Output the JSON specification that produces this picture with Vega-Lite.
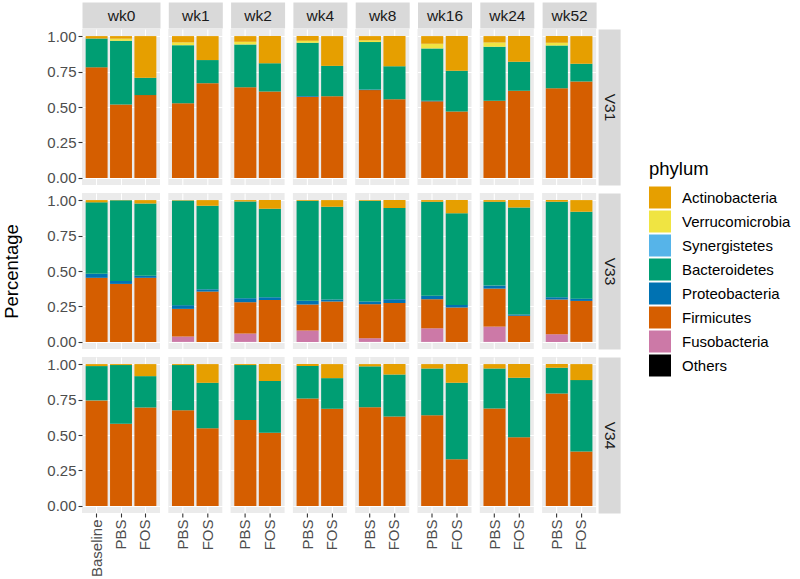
{
"$schema": "https://vega.github.io/schema/vega-lite/v6.json",
"background": "#FFFFFF",
"padding": {"left": 2, "top": 8, "right": 0, "bottom": 0},
"datasets": {
"d": [
{"m":"V31","w":"wk0","g":"Baseline","Firmicutes":0.78,"Bacteroidetes":0.203,"Actinobacteria":0.017},
{"m":"V31","w":"wk0","g":"PBS","Firmicutes":0.518,"Bacteroidetes":0.449,"Verrucomicrobia":0.015,"Actinobacteria":0.018},
{"m":"V31","w":"wk0","g":"FOS","Firmicutes":0.584,"Bacteroidetes":0.122,"Actinobacteria":0.294},
{"m":"V31","w":"wk1","g":"PBS","Firmicutes":0.527,"Bacteroidetes":0.409,"Verrucomicrobia":0.02,"Actinobacteria":0.044},
{"m":"V31","w":"wk1","g":"FOS","Firmicutes":0.668,"Bacteroidetes":0.163,"Actinobacteria":0.169},
{"m":"V31","w":"wk2","g":"PBS","Firmicutes":0.64,"Bacteroidetes":0.301,"Verrucomicrobia":0.019,"Actinobacteria":0.04},
{"m":"V31","w":"wk2","g":"FOS","Firmicutes":0.609,"Bacteroidetes":0.2,"Actinobacteria":0.191},
{"m":"V31","w":"wk4","g":"PBS","Firmicutes":0.572,"Proteobacteria":0.006,"Bacteroidetes":0.375,"Verrucomicrobia":0.014,"Actinobacteria":0.033},
{"m":"V31","w":"wk4","g":"FOS","Firmicutes":0.576,"Bacteroidetes":0.214,"Actinobacteria":0.21},
{"m":"V31","w":"wk8","g":"PBS","Firmicutes":0.619,"Proteobacteria":0.004,"Bacteroidetes":0.335,"Verrucomicrobia":0.012,"Actinobacteria":0.03},
{"m":"V31","w":"wk8","g":"FOS","Firmicutes":0.555,"Bacteroidetes":0.233,"Actinobacteria":0.212},
{"m":"V31","w":"wk16","g":"PBS","Firmicutes":0.54,"Proteobacteria":0.004,"Bacteroidetes":0.369,"Verrucomicrobia":0.033,"Actinobacteria":0.054},
{"m":"V31","w":"wk16","g":"FOS","Firmicutes":0.468,"Bacteroidetes":0.287,"Actinobacteria":0.245},
{"m":"V31","w":"wk24","g":"PBS","Firmicutes":0.544,"Bacteroidetes":0.381,"Verrucomicrobia":0.03,"Actinobacteria":0.045},
{"m":"V31","w":"wk24","g":"FOS","Firmicutes":0.614,"Bacteroidetes":0.205,"Actinobacteria":0.181},
{"m":"V31","w":"wk52","g":"PBS","Firmicutes":0.633,"Bacteroidetes":0.301,"Verrucomicrobia":0.019,"Actinobacteria":0.047},
{"m":"V31","w":"wk52","g":"FOS","Firmicutes":0.68,"Bacteroidetes":0.125,"Actinobacteria":0.195},
{"m":"V33","w":"wk0","g":"Baseline","Firmicutes":0.452,"Proteobacteria":0.028,"Bacteroidetes":0.504,"Actinobacteria":0.016},
{"m":"V33","w":"wk0","g":"PBS","Firmicutes":0.409,"Proteobacteria":0.021,"Bacteroidetes":0.568,"Actinobacteria":0.002},
{"m":"V33","w":"wk0","g":"FOS","Firmicutes":0.452,"Proteobacteria":0.014,"Bacteroidetes":0.51,"Actinobacteria":0.024},
{"m":"V33","w":"wk1","g":"PBS","Fusobacteria":0.038,"Firmicutes":0.195,"Proteobacteria":0.026,"Bacteroidetes":0.738,"Actinobacteria":0.003},
{"m":"V33","w":"wk1","g":"FOS","Firmicutes":0.355,"Proteobacteria":0.016,"Bacteroidetes":0.589,"Actinobacteria":0.04},
{"m":"V33","w":"wk2","g":"PBS","Fusobacteria":0.059,"Firmicutes":0.221,"Proteobacteria":0.028,"Bacteroidetes":0.682,"Actinobacteria":0.01},
{"m":"V33","w":"wk2","g":"FOS","Firmicutes":0.296,"Proteobacteria":0.019,"Bacteroidetes":0.624,"Actinobacteria":0.061},
{"m":"V33","w":"wk4","g":"PBS","Fusobacteria":0.08,"Firmicutes":0.184,"Proteobacteria":0.026,"Bacteroidetes":0.705,"Actinobacteria":0.005},
{"m":"V33","w":"wk4","g":"FOS","Firmicutes":0.285,"Proteobacteria":0.014,"Bacteroidetes":0.654,"Actinobacteria":0.047},
{"m":"V33","w":"wk8","g":"PBS","Fusobacteria":0.026,"Firmicutes":0.24,"Proteobacteria":0.019,"Bacteroidetes":0.71,"Actinobacteria":0.005},
{"m":"V33","w":"wk8","g":"FOS","Firmicutes":0.275,"Proteobacteria":0.026,"Bacteroidetes":0.643,"Actinobacteria":0.056},
{"m":"V33","w":"wk16","g":"PBS","Fusobacteria":0.096,"Firmicutes":0.205,"Proteobacteria":0.024,"Bacteroidetes":0.663,"Actinobacteria":0.012},
{"m":"V33","w":"wk16","g":"FOS","Firmicutes":0.242,"Proteobacteria":0.019,"Bacteroidetes":0.647,"Actinobacteria":0.092},
{"m":"V33","w":"wk24","g":"PBS","Fusobacteria":0.108,"Firmicutes":0.268,"Proteobacteria":0.021,"Bacteroidetes":0.591,"Actinobacteria":0.012},
{"m":"V33","w":"wk24","g":"FOS","Firmicutes":0.184,"Proteobacteria":0.009,"Bacteroidetes":0.755,"Actinobacteria":0.052},
{"m":"V33","w":"wk52","g":"PBS","Fusobacteria":0.054,"Firmicutes":0.245,"Proteobacteria":0.016,"Bacteroidetes":0.673,"Actinobacteria":0.012},
{"m":"V33","w":"wk52","g":"FOS","Firmicutes":0.289,"Proteobacteria":0.016,"Bacteroidetes":0.613,"Actinobacteria":0.082},
{"m":"V34","w":"wk0","g":"Baseline","Firmicutes":0.744,"Bacteroidetes":0.242,"Actinobacteria":0.014},
{"m":"V34","w":"wk0","g":"PBS","Firmicutes":0.579,"Bacteroidetes":0.414,"Actinobacteria":0.007},
{"m":"V34","w":"wk0","g":"FOS","Firmicutes":0.694,"Bacteroidetes":0.221,"Actinobacteria":0.085},
{"m":"V34","w":"wk1","g":"PBS","Firmicutes":0.675,"Bacteroidetes":0.318,"Actinobacteria":0.007},
{"m":"V34","w":"wk1","g":"FOS","Firmicutes":0.548,"Bacteroidetes":0.32,"Actinobacteria":0.132},
{"m":"V34","w":"wk2","g":"PBS","Firmicutes":0.605,"Bacteroidetes":0.388,"Actinobacteria":0.007},
{"m":"V34","w":"wk2","g":"FOS","Firmicutes":0.515,"Bacteroidetes":0.365,"Actinobacteria":0.12},
{"m":"V34","w":"wk4","g":"PBS","Firmicutes":0.758,"Bacteroidetes":0.228,"Actinobacteria":0.014},
{"m":"V34","w":"wk4","g":"FOS","Firmicutes":0.685,"Bacteroidetes":0.216,"Actinobacteria":0.099},
{"m":"V34","w":"wk8","g":"PBS","Firmicutes":0.696,"Bacteroidetes":0.288,"Actinobacteria":0.016},
{"m":"V34","w":"wk8","g":"FOS","Firmicutes":0.631,"Bacteroidetes":0.296,"Actinobacteria":0.073},
{"m":"V34","w":"wk16","g":"PBS","Firmicutes":0.64,"Bacteroidetes":0.329,"Actinobacteria":0.031},
{"m":"V34","w":"wk16","g":"FOS","Firmicutes":0.329,"Bacteroidetes":0.539,"Actinobacteria":0.132},
{"m":"V34","w":"wk24","g":"PBS","Firmicutes":0.687,"Bacteroidetes":0.282,"Actinobacteria":0.031},
{"m":"V34","w":"wk24","g":"FOS","Firmicutes":0.485,"Bacteroidetes":0.419,"Actinobacteria":0.096},
{"m":"V34","w":"wk52","g":"PBS","Firmicutes":0.793,"Bacteroidetes":0.181,"Actinobacteria":0.026},
{"m":"V34","w":"wk52","g":"FOS","Firmicutes":0.384,"Bacteroidetes":0.503,"Actinobacteria":0.113}
],
"ph": [
{"phylum":"Others","k":0},{"phylum":"Fusobacteria","k":1},{"phylum":"Firmicutes","k":2},{"phylum":"Proteobacteria","k":3},
{"phylum":"Bacteroidetes","k":4},{"phylum":"Synergistetes","k":5},{"phylum":"Verrucomicrobia","k":6},{"phylum":"Actinobacteria","k":7}
]
},
"data": {"name": "d"},
"transform": [
{"fold": ["Fusobacteria","Firmicutes","Proteobacteria","Bacteroidetes","Verrucomicrobia","Actinobacteria"], "as": ["phylum","value"]},
{"filter": "isValid(datum.value)"},
{"lookup": "phylum", "from": {"data": {"name": "ph"}, "key": "phylum", "fields": ["k"]}}
],
"columns": 8,
"align": "each",
"bounds": "flush",
"spacing": {"row": 8, "column": 8.3},
"concat": [
{"width":78,"height":156,"transform":[{"filter":"datum.m=='V31' && datum.w=='wk0'"}],"mark":"bar","encoding":{"x":{"field":"g","type":"nominal","sort":["Baseline","PBS","FOS"],"axis":{"orient":"top","title":"wk0","offset":14}},"y":{"field":"value","type":"quantitative","stack":"zero","scale":{"domain":[-0.05,1.05],"nice":false,"zero":false},"axis":{"orient":"left","labels":true,"ticks":true,"values":[0,0.25,0.5,0.75,1],"format":".2f","title":null}},"color":{"field":"phylum","type":"nominal","scale":{"domain":["Actinobacteria","Verrucomicrobia","Synergistetes","Bacteroidetes","Proteobacteria","Firmicutes","Fusobacteria","Others"],"range":["#E69F00","#F0E442","#56B4E9","#009E73","#0072B2","#D55E00","#CC79A7","#000000"]},"legend":{"title":"phylum","orient":"none","legendX":567,"legendY":131}},"order":{"field":"k","type":"quantitative"}}},
{"width":54,"height":156,"transform":[{"filter":"datum.m=='V31' && datum.w=='wk1'"}],"mark":"bar","encoding":{"x":{"field":"g","type":"nominal","sort":["Baseline","PBS","FOS"],"axis":{"orient":"top","title":"wk1","offset":14}},"y":{"field":"value","type":"quantitative","stack":"zero","scale":{"domain":[-0.05,1.05],"nice":false,"zero":false},"axis":{"orient":"left","values":[0,0.25,0.5,0.75,1],"title":null}},"color":{"field":"phylum","type":"nominal"},"order":{"field":"k","type":"quantitative"}}},
{"width":54,"height":156,"transform":[{"filter":"datum.m=='V31' && datum.w=='wk2'"}],"mark":"bar","encoding":{"x":{"field":"g","type":"nominal","sort":["Baseline","PBS","FOS"],"axis":{"orient":"top","title":"wk2","offset":14}},"y":{"field":"value","type":"quantitative","stack":"zero","scale":{"domain":[-0.05,1.05],"nice":false,"zero":false},"axis":{"orient":"left","values":[0,0.25,0.5,0.75,1],"title":null}},"color":{"field":"phylum","type":"nominal"},"order":{"field":"k","type":"quantitative"}}},
{"width":54,"height":156,"transform":[{"filter":"datum.m=='V31' && datum.w=='wk4'"}],"mark":"bar","encoding":{"x":{"field":"g","type":"nominal","sort":["Baseline","PBS","FOS"],"axis":{"orient":"top","title":"wk4","offset":14}},"y":{"field":"value","type":"quantitative","stack":"zero","scale":{"domain":[-0.05,1.05],"nice":false,"zero":false},"axis":{"orient":"left","values":[0,0.25,0.5,0.75,1],"title":null}},"color":{"field":"phylum","type":"nominal"},"order":{"field":"k","type":"quantitative"}}},
{"width":54,"height":156,"transform":[{"filter":"datum.m=='V31' && datum.w=='wk8'"}],"mark":"bar","encoding":{"x":{"field":"g","type":"nominal","sort":["Baseline","PBS","FOS"],"axis":{"orient":"top","title":"wk8","offset":14}},"y":{"field":"value","type":"quantitative","stack":"zero","scale":{"domain":[-0.05,1.05],"nice":false,"zero":false},"axis":{"orient":"left","values":[0,0.25,0.5,0.75,1],"title":null}},"color":{"field":"phylum","type":"nominal"},"order":{"field":"k","type":"quantitative"}}},
{"width":54,"height":156,"transform":[{"filter":"datum.m=='V31' && datum.w=='wk16'"}],"mark":"bar","encoding":{"x":{"field":"g","type":"nominal","sort":["Baseline","PBS","FOS"],"axis":{"orient":"top","title":"wk16","offset":14}},"y":{"field":"value","type":"quantitative","stack":"zero","scale":{"domain":[-0.05,1.05],"nice":false,"zero":false},"axis":{"orient":"left","values":[0,0.25,0.5,0.75,1],"title":null}},"color":{"field":"phylum","type":"nominal"},"order":{"field":"k","type":"quantitative"}}},
{"width":54,"height":156,"transform":[{"filter":"datum.m=='V31' && datum.w=='wk24'"}],"mark":"bar","encoding":{"x":{"field":"g","type":"nominal","sort":["Baseline","PBS","FOS"],"axis":{"orient":"top","title":"wk24","offset":14}},"y":{"field":"value","type":"quantitative","stack":"zero","scale":{"domain":[-0.05,1.05],"nice":false,"zero":false},"axis":{"orient":"left","values":[0,0.25,0.5,0.75,1],"title":null}},"color":{"field":"phylum","type":"nominal"},"order":{"field":"k","type":"quantitative"}}},
{"width":54,"height":156,"transform":[{"filter":"datum.m=='V31' && datum.w=='wk52'"}],"mark":"bar","encoding":{"x":{"field":"g","type":"nominal","sort":["Baseline","PBS","FOS"],"axis":{"orient":"top","title":"wk52","offset":14}},"y":{"field":"value","type":"quantitative","stack":"zero","scale":{"domain":[-0.05,1.05],"nice":false,"zero":false},"axis":{"orient":"right","values":[0,0.25,0.5,0.75,1],"title":"V31","offset":13}},"color":{"field":"phylum","type":"nominal"},"order":{"field":"k","type":"quantitative"}}},

{"width":78,"height":156,"transform":[{"filter":"datum.m=='V33' && datum.w=='wk0'"}],"mark":"bar","encoding":{"x":{"field":"g","type":"nominal","sort":["Baseline","PBS","FOS"],"axis":{"orient":"bottom","title":null}},"y":{"field":"value","type":"quantitative","stack":"zero","scale":{"domain":[-0.05,1.05],"nice":false,"zero":false},"axis":{"orient":"left","labels":true,"ticks":true,"values":[0,0.25,0.5,0.75,1],"format":".2f","title":"Percentage","titleFontSize":18.5,"titleColor":"#000000","titlePadding":25}},"color":{"field":"phylum","type":"nominal"},"order":{"field":"k","type":"quantitative"}}},
{"width":54,"height":156,"transform":[{"filter":"datum.m=='V33' && datum.w=='wk1'"}],"mark":"bar","encoding":{"x":{"field":"g","type":"nominal","sort":["Baseline","PBS","FOS"],"axis":{"orient":"bottom","title":null}},"y":{"field":"value","type":"quantitative","stack":"zero","scale":{"domain":[-0.05,1.05],"nice":false,"zero":false},"axis":{"orient":"left","values":[0,0.25,0.5,0.75,1],"title":null}},"color":{"field":"phylum","type":"nominal"},"order":{"field":"k","type":"quantitative"}}},
{"width":54,"height":156,"transform":[{"filter":"datum.m=='V33' && datum.w=='wk2'"}],"mark":"bar","encoding":{"x":{"field":"g","type":"nominal","sort":["Baseline","PBS","FOS"],"axis":{"orient":"bottom","title":null}},"y":{"field":"value","type":"quantitative","stack":"zero","scale":{"domain":[-0.05,1.05],"nice":false,"zero":false},"axis":{"orient":"left","values":[0,0.25,0.5,0.75,1],"title":null}},"color":{"field":"phylum","type":"nominal"},"order":{"field":"k","type":"quantitative"}}},
{"width":54,"height":156,"transform":[{"filter":"datum.m=='V33' && datum.w=='wk4'"}],"mark":"bar","encoding":{"x":{"field":"g","type":"nominal","sort":["Baseline","PBS","FOS"],"axis":{"orient":"bottom","title":null}},"y":{"field":"value","type":"quantitative","stack":"zero","scale":{"domain":[-0.05,1.05],"nice":false,"zero":false},"axis":{"orient":"left","values":[0,0.25,0.5,0.75,1],"title":null}},"color":{"field":"phylum","type":"nominal"},"order":{"field":"k","type":"quantitative"}}},
{"width":54,"height":156,"transform":[{"filter":"datum.m=='V33' && datum.w=='wk8'"}],"mark":"bar","encoding":{"x":{"field":"g","type":"nominal","sort":["Baseline","PBS","FOS"],"axis":{"orient":"bottom","title":null}},"y":{"field":"value","type":"quantitative","stack":"zero","scale":{"domain":[-0.05,1.05],"nice":false,"zero":false},"axis":{"orient":"left","values":[0,0.25,0.5,0.75,1],"title":null}},"color":{"field":"phylum","type":"nominal"},"order":{"field":"k","type":"quantitative"}}},
{"width":54,"height":156,"transform":[{"filter":"datum.m=='V33' && datum.w=='wk16'"}],"mark":"bar","encoding":{"x":{"field":"g","type":"nominal","sort":["Baseline","PBS","FOS"],"axis":{"orient":"bottom","title":null}},"y":{"field":"value","type":"quantitative","stack":"zero","scale":{"domain":[-0.05,1.05],"nice":false,"zero":false},"axis":{"orient":"left","values":[0,0.25,0.5,0.75,1],"title":null}},"color":{"field":"phylum","type":"nominal"},"order":{"field":"k","type":"quantitative"}}},
{"width":54,"height":156,"transform":[{"filter":"datum.m=='V33' && datum.w=='wk24'"}],"mark":"bar","encoding":{"x":{"field":"g","type":"nominal","sort":["Baseline","PBS","FOS"],"axis":{"orient":"bottom","title":null}},"y":{"field":"value","type":"quantitative","stack":"zero","scale":{"domain":[-0.05,1.05],"nice":false,"zero":false},"axis":{"orient":"left","values":[0,0.25,0.5,0.75,1],"title":null}},"color":{"field":"phylum","type":"nominal"},"order":{"field":"k","type":"quantitative"}}},
{"width":54,"height":156,"transform":[{"filter":"datum.m=='V33' && datum.w=='wk52'"}],"mark":"bar","encoding":{"x":{"field":"g","type":"nominal","sort":["Baseline","PBS","FOS"],"axis":{"orient":"bottom","title":null}},"y":{"field":"value","type":"quantitative","stack":"zero","scale":{"domain":[-0.05,1.05],"nice":false,"zero":false},"axis":{"orient":"right","values":[0,0.25,0.5,0.75,1],"title":"V33","offset":13}},"color":{"field":"phylum","type":"nominal"},"order":{"field":"k","type":"quantitative"}}},

{"width":78,"height":156,"transform":[{"filter":"datum.m=='V34' && datum.w=='wk0'"}],"mark":"bar","encoding":{"x":{"field":"g","type":"nominal","sort":["Baseline","PBS","FOS"],"axis":{"orient":"bottom","labels":true,"ticks":true,"labelAngle":-90,"title":null}},"y":{"field":"value","type":"quantitative","stack":"zero","scale":{"domain":[-0.05,1.05],"nice":false,"zero":false},"axis":{"orient":"left","labels":true,"ticks":true,"values":[0,0.25,0.5,0.75,1],"format":".2f","title":null}},"color":{"field":"phylum","type":"nominal"},"order":{"field":"k","type":"quantitative"}}},
{"width":54,"height":156,"transform":[{"filter":"datum.m=='V34' && datum.w=='wk1'"}],"mark":"bar","encoding":{"x":{"field":"g","type":"nominal","sort":["Baseline","PBS","FOS"],"axis":{"orient":"bottom","labels":true,"ticks":true,"labelAngle":-90,"title":null}},"y":{"field":"value","type":"quantitative","stack":"zero","scale":{"domain":[-0.05,1.05],"nice":false,"zero":false},"axis":{"orient":"left","values":[0,0.25,0.5,0.75,1],"title":null}},"color":{"field":"phylum","type":"nominal"},"order":{"field":"k","type":"quantitative"}}},
{"width":54,"height":156,"transform":[{"filter":"datum.m=='V34' && datum.w=='wk2'"}],"mark":"bar","encoding":{"x":{"field":"g","type":"nominal","sort":["Baseline","PBS","FOS"],"axis":{"orient":"bottom","labels":true,"ticks":true,"labelAngle":-90,"title":null}},"y":{"field":"value","type":"quantitative","stack":"zero","scale":{"domain":[-0.05,1.05],"nice":false,"zero":false},"axis":{"orient":"left","values":[0,0.25,0.5,0.75,1],"title":null}},"color":{"field":"phylum","type":"nominal"},"order":{"field":"k","type":"quantitative"}}},
{"width":54,"height":156,"transform":[{"filter":"datum.m=='V34' && datum.w=='wk4'"}],"mark":"bar","encoding":{"x":{"field":"g","type":"nominal","sort":["Baseline","PBS","FOS"],"axis":{"orient":"bottom","labels":true,"ticks":true,"labelAngle":-90,"title":null}},"y":{"field":"value","type":"quantitative","stack":"zero","scale":{"domain":[-0.05,1.05],"nice":false,"zero":false},"axis":{"orient":"left","values":[0,0.25,0.5,0.75,1],"title":null}},"color":{"field":"phylum","type":"nominal"},"order":{"field":"k","type":"quantitative"}}},
{"width":54,"height":156,"transform":[{"filter":"datum.m=='V34' && datum.w=='wk8'"}],"mark":"bar","encoding":{"x":{"field":"g","type":"nominal","sort":["Baseline","PBS","FOS"],"axis":{"orient":"bottom","labels":true,"ticks":true,"labelAngle":-90,"title":null}},"y":{"field":"value","type":"quantitative","stack":"zero","scale":{"domain":[-0.05,1.05],"nice":false,"zero":false},"axis":{"orient":"left","values":[0,0.25,0.5,0.75,1],"title":null}},"color":{"field":"phylum","type":"nominal"},"order":{"field":"k","type":"quantitative"}}},
{"width":54,"height":156,"transform":[{"filter":"datum.m=='V34' && datum.w=='wk16'"}],"mark":"bar","encoding":{"x":{"field":"g","type":"nominal","sort":["Baseline","PBS","FOS"],"axis":{"orient":"bottom","labels":true,"ticks":true,"labelAngle":-90,"title":null}},"y":{"field":"value","type":"quantitative","stack":"zero","scale":{"domain":[-0.05,1.05],"nice":false,"zero":false},"axis":{"orient":"left","values":[0,0.25,0.5,0.75,1],"title":null}},"color":{"field":"phylum","type":"nominal"},"order":{"field":"k","type":"quantitative"}}},
{"width":54,"height":156,"transform":[{"filter":"datum.m=='V34' && datum.w=='wk24'"}],"mark":"bar","encoding":{"x":{"field":"g","type":"nominal","sort":["Baseline","PBS","FOS"],"axis":{"orient":"bottom","labels":true,"ticks":true,"labelAngle":-90,"title":null}},"y":{"field":"value","type":"quantitative","stack":"zero","scale":{"domain":[-0.05,1.05],"nice":false,"zero":false},"axis":{"orient":"left","values":[0,0.25,0.5,0.75,1],"title":null}},"color":{"field":"phylum","type":"nominal"},"order":{"field":"k","type":"quantitative"}}},
{"width":54,"height":156,"transform":[{"filter":"datum.m=='V34' && datum.w=='wk52'"}],"mark":"bar","encoding":{"x":{"field":"g","type":"nominal","sort":["Baseline","PBS","FOS"],"axis":{"orient":"bottom","labels":true,"ticks":true,"labelAngle":-90,"title":null}},"y":{"field":"value","type":"quantitative","stack":"zero","scale":{"domain":[-0.05,1.05],"nice":false,"zero":false},"axis":{"orient":"right","values":[0,0.25,0.5,0.75,1],"title":"V34","offset":13}},"color":{"field":"phylum","type":"nominal"},"order":{"field":"k","type":"quantitative"}}}
],
"config": {
"font": "Liberation Sans",
"view": {"fill": "#EBEBEB", "stroke": null},
"bar": {"stroke": null},
"scale": {"bandPaddingInner": 0.1, "bandPaddingOuter": 0.15},
"axis": {"domain": false, "ticks": false, "labels": false, "grid": true, "gridColor": "#FFFFFF", "gridWidth": 1.1, "titleFontWeight": "normal", "tickColor": "#333333", "tickSize": 4, "tickWidth": 1.1, "labelColor": "#4D4D4D", "labelFontSize": 15, "labelPadding": 2, "bandPosition": 0.5},
"axisTop": {"domain": true, "domainColor": "#D9D9D9", "domainWidth": 26, "domainCap": "butt", "titleFontSize": 15.5, "titleColor": "#1A1A1A", "titleY": 0, "titleBaseline": "middle", "titleAlign": "center", "titlePadding": 0},
"axisRight": {"domain": true, "domainColor": "#D9D9D9", "domainWidth": 22, "domainCap": "butt", "titleFontSize": 15.5, "titleColor": "#1A1A1A", "titleX": 0, "titleAngle": 90, "titleBaseline": "middle", "titleAlign": "center", "titlePadding": 0},
"legend": {"titleFontSize": 18.5, "titleFontWeight": "normal", "titleColor": "#000000", "labelFontSize": 15, "labelColor": "#000000", "symbolType": "square", "symbolSize": 484, "symbolStrokeWidth": 0, "symbolOpacity": 1, "rowPadding": 2, "labelOffset": 11, "titlePadding": 8}
}
}
